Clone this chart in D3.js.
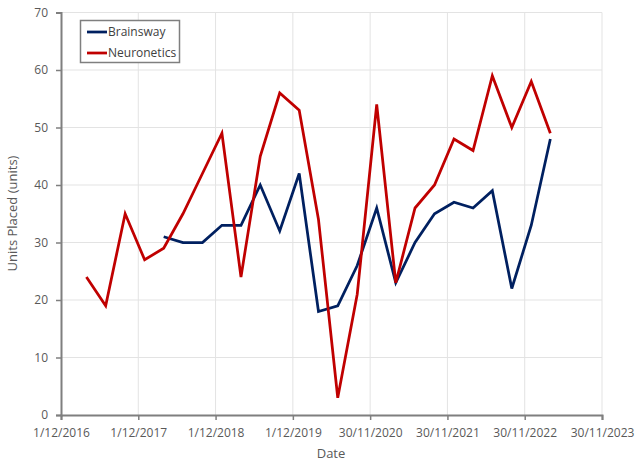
<!DOCTYPE html>
<html>
<head>
<meta charset="utf-8">
<script src="https://cdn.jsdelivr.net/npm/d3@7"></script>
<style>
  html, body { margin: 0; padding: 0; background: #fff; }
  svg { display: block; font-family: "Open Sans", sans-serif; }
</style>
</head>
<body>
<svg id="chart" width="640" height="465"></svg>
<script>
// Quarter-end dates
const quarters = [
  "2017-03-31","2017-06-30","2017-09-30","2017-12-31",
  "2018-03-31","2018-06-30","2018-09-30","2018-12-31",
  "2019-03-31","2019-06-30","2019-09-30","2019-12-31",
  "2020-03-31","2020-06-30","2020-09-30","2020-12-31",
  "2021-03-31","2021-06-30","2021-09-30","2021-12-31",
  "2022-03-31","2022-06-30","2022-09-30","2022-12-31",
  "2023-03-31"
];
const neuronetics = [24,19,35,27, 29,35,42,49, 24,45,56,53, 34,3,21,54, 23,36,40,48, 46,59,50,58, 49];
const brainsway   = [null,null,null,null, 31,30,30,33, 33,40,32,42, 18,19,26,36, 23,30,35,37, 36,39,22,33, 48];
const xTickDates = ["2016-12-01","2017-12-01","2018-12-01","2019-12-01","2020-11-30","2021-11-30","2022-11-30","2023-11-30"];
const xTickLabels = ["1/12/2016","1/12/2017","1/12/2018","1/12/2019","30/11/2020","30/11/2021","30/11/2022","30/11/2023"];
const yTicks = [0,10,20,30,40,50,60,70];
const seriesNames = ["Brainsway","Neuronetics"];
const seriesColors = ["#002060","#C00000"];

const parse = d3.utcParse("%Y-%m-%d");
const svg = d3.select("#chart");
const m = {left: 61, right: 602, top: 12.5, bottom: 415};

const x = d3.scaleUtc()
  .domain([parse(xTickDates[0]), parse(xTickDates[xTickDates.length-1])])
  .range([m.left, m.right]);
const y = d3.scaleLinear().domain([0,70]).range([m.bottom, m.top]);

// gridlines
const grid = svg.append("g");
grid.selectAll("line.h").data(yTicks.slice(1)).enter().append("line")
  .attr("x1", m.left).attr("x2", m.right)
  .attr("y1", d => y(d)).attr("y2", d => y(d))
  .attr("stroke", "#e3e3e3").attr("stroke-width", 1);
grid.selectAll("line.v").data(xTickDates.slice(1)).enter().append("line")
  .attr("x1", d => x(parse(d))).attr("x2", d => x(parse(d)))
  .attr("y1", m.top).attr("y2", m.bottom)
  .attr("stroke", "#e3e3e3").attr("stroke-width", 1);

// axes
const xAxis = d3.axisBottom(x)
  .tickValues(xTickDates.map(parse))
  .tickFormat((d,i) => xTickLabels[i])
  .tickSizeOuter(0).tickSize(5).tickPadding(8);
const gx = svg.append("g").attr("transform", `translate(0,${m.bottom})`).call(xAxis);
const yAxis = d3.axisLeft(y).tickValues(yTicks).tickSizeOuter(0).tickSize(5).tickPadding(8);
const gy = svg.append("g").attr("transform", `translate(${m.left},0)`).call(yAxis);
[gx, gy].forEach(g => {
  g.select(".domain").attr("stroke", "#7f7f7f").attr("stroke-width", 2);
  g.selectAll(".tick line").attr("stroke", "#7f7f7f").attr("stroke-width", 1.5);
  g.selectAll(".tick text").attr("fill", "#595959").style("font-size", "12px")
   .style("font-family", '"Open Sans", sans-serif');
});
gy.selectAll(".tick text").attr("dy", "0.3em");

// lines
const data = [brainsway, neuronetics];
const line = d3.line()
  .defined(d => d.v !== null)
  .x(d => x(d.date)).y(d => y(d.v));
data.forEach((vals, i) => {
  const pts = quarters.map((q, j) => ({date: parse(q), v: vals[j]}));
  svg.append("path").datum(pts)
    .attr("fill", "none")
    .attr("stroke", seriesColors[i])
    .attr("stroke-width", 2.75)
    .attr("stroke-linejoin", "miter")
    .attr("d", line);
});

// axis titles
svg.append("text").attr("x", 331).attr("y", 458).attr("text-anchor", "middle")
  .attr("fill", "#595959").style("font-size", "13px").text("Date");
svg.append("text").attr("transform", "translate(17,213.5) rotate(-90)")
  .attr("text-anchor", "middle").attr("fill", "#595959").style("font-size", "13px")
  .text("Units Placed (units)");

// legend
const lg = svg.append("g");
lg.append("rect").attr("x", 80.5).attr("y", 20.5).attr("width", 99).attr("height", 42)
  .attr("fill", "#fff").attr("stroke", "#7f7f7f").attr("stroke-width", 1.5);
seriesNames.forEach((n, i) => {
  const yy = 32 + i * 21;
  lg.append("line").attr("x1", 87).attr("x2", 107).attr("y1", yy).attr("y2", yy)
    .attr("stroke", seriesColors[i]).attr("stroke-width", 2.75);
  lg.append("text").attr("x", 108).attr("y", yy).attr("dy", "0.35em")
    .attr("fill", "#404040").style("font-size", "12px").text(n);
});
</script>
</body>
</html>
